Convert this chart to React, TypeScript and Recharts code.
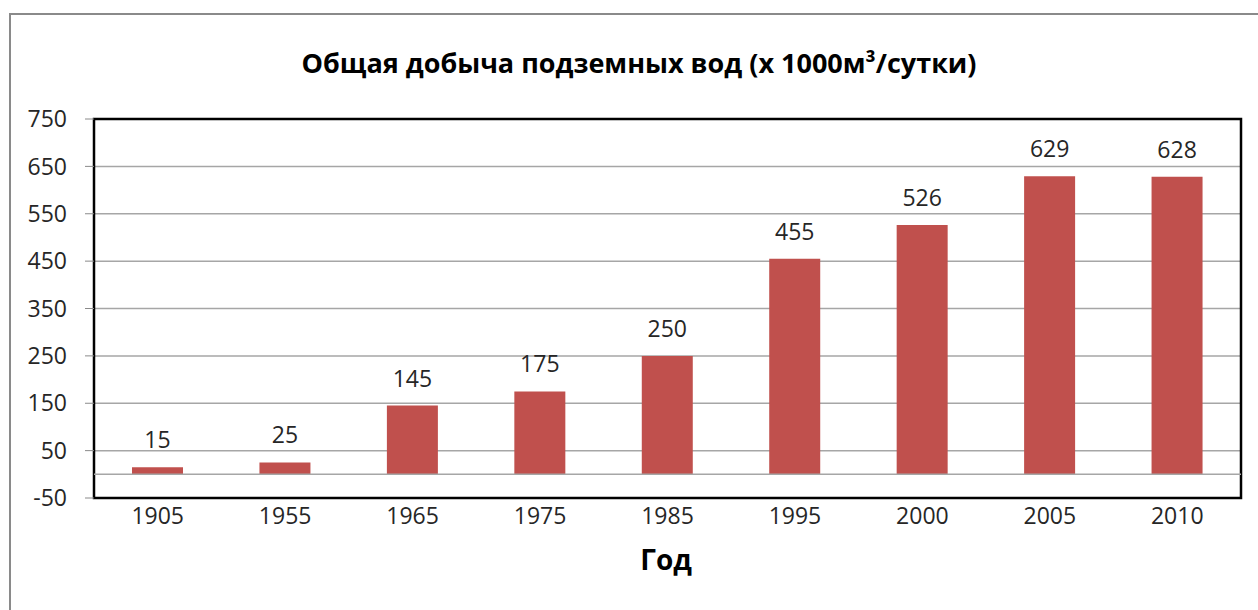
import React from "react";
import {
  BarChart,
  Bar,
  XAxis,
  YAxis,
  CartesianGrid,
  ReferenceLine,
  ReferenceArea,
  LabelList,
} from "recharts";

const years = ["1905", "1955", "1965", "1975", "1985", "1995", "2000", "2005", "2010"];
const production = [15, 25, 145, 175, 250, 455, 526, 629, 628];
const yTicks = [-50, 50, 150, 250, 350, 450, 550, 650, 750];

const title = "Общая добыча подземных вод (х 1000м³/сутки)";
const xTitle = "Год";

const data = years.map((year, i) => ({ year, value: production[i] }));

const FONT = "'Open Sans', 'Noto Sans', sans-serif";
const TEXT = "#262626";

export default function App() {
  return (
    <div
      style={{
        position: "absolute",
        left: 0,
        top: 0,
        width: 1258,
        height: 610,
        overflow: "hidden",
        background: "#fff",
        fontFamily: FONT,
      }}
    >
      <div
        style={{
          position: "absolute",
          left: 9,
          top: 13,
          width: 1300,
          height: 700,
          border: "2px solid #8a8a8a",
        }}
      />
      <BarChart
        width={1258}
        height={610}
        data={data}
        margin={{ top: 119, right: 17, bottom: 82, left: 0 }}
        barSize={51}
        style={{ position: "absolute", left: 0, top: 0 }}
      >
        <text
          x={639}
          y={73}
          textAnchor="middle"
          fontFamily={FONT}
          fontWeight={700}
          fontSize={27}
          fill="#000"
        >
          {title}
        </text>
        <text
          x={666}
          y={570}
          textAnchor="middle"
          fontFamily={FONT}
          fontWeight={700}
          fontSize={28}
          fill="#000"
        >
          {xTitle}
        </text>
        <CartesianGrid vertical={false} stroke="#a6a6a6" strokeWidth={1.5} />
        <XAxis
          dataKey="year"
          height={30}
          axisLine={false}
          tickLine={false}
          tickSize={0}
          tickMargin={10}
          tick={{ fontSize: 23, fill: TEXT, fontFamily: FONT }}
          interval={0}
        />
        <YAxis
          width={94}
          domain={[-50, 750]}
          ticks={yTicks}
          interval={0}
          axisLine={false}
          tickSize={9}
          tickMargin={18}
          tickLine={{ stroke: "#8a8a8a" }}
          tick={{ fontSize: 23, fill: TEXT, fontFamily: FONT }}
        />
        <ReferenceLine y={0} stroke="#a6a6a6" strokeWidth={1.5} />
        <Bar dataKey="value" fill="#C0504D" isAnimationActive={false}>
          <LabelList
            dataKey="value"
            position="top"
            offset={19}
            fill={TEXT}
            fontSize={23}
            fontFamily={FONT}
          />
        </Bar>
        <ReferenceArea
          y1={-50}
          y2={750}
          fill="none"
          stroke="#000"
          strokeWidth={2.5}
          ifOverflow="visible"
        />
      </BarChart>
    </div>
  );
}
